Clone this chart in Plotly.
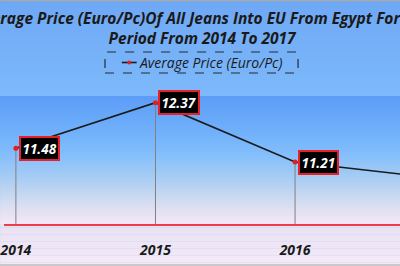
import plotly.graph_objects as go

years = [2014, 2015, 2016, 2017]
prices = [11.48, 12.37, 11.21, 10.90]
series_name = "Average Price (Euro/Pc)"
title_line1 = "Average Price (Euro/Pc)Of All Jeans Into EU From Egypt For The"
title_line2 = "Period From 2014 To 2017"
tick_vals = [2014, 2015, 2016, 2017]
tick_text = ["2014", "2015", "2016", "2017"]

W, H = 400, 266
T, B = 96, 42
PH = H - T - B
Y_MIN, Y_MAX = 10.0, 12.5
FONT = "Open Sans"
LINE_COLOR = "#1a1a1a"
MARKER_COLOR = "#e02020"


def py2paper(py):
    return (H - B - py) / PH


def lerp(c1, c2, t):
    a = [int(c1[i:i + 2], 16) for i in (1, 3, 5)]
    b = [int(c2[i:i + 2], 16) for i in (1, 3, 5)]
    return "rgb(%d,%d,%d)" % tuple(round(a[k] + (b[k] - a[k]) * t) for k in range(3))


def grad(stops, t):
    for i in range(len(stops) - 1):
        t0, c0 = stops[i]
        t1, c1 = stops[i + 1]
        if t <= t1:
            return lerp(c0, c1, (t - t0) / (t1 - t0) if t1 > t0 else 0)
    return lerp(stops[-1][1], stops[-1][1], 0)


shapes = []


def band(py0, py1, stops, n):
    for i in range(n):
        a = py0 + (py1 - py0) * i / n
        b = py0 + (py1 - py0) * (i + 1) / n
        col = grad(stops, (i + 0.5) / n)
        shapes.append(dict(type="rect", xref="paper", yref="paper", x0=-0.01, x1=1.01,
                           y0=py2paper(b + 0.3), y1=py2paper(a), fillcolor=col,
                           line=dict(width=0), layer="below"))


# outer chart area (top)
band(0, T, [(0, "#6ea8f5"), (1, "#7db9fb")], 24)
# plot area gradient
band(T, H - B, [(0, "#5c9cf7"), (0.3, "#72b2fb"), (0.45, "#82befc"),
                (0.65, "#aacdf3"), (0.85, "#d8def1"), (1, "#f6e8f6")], 64)
# outer chart area (bottom)
band(H - B, H, [(0, "#e9e2f3"), (1, "#f4e9f7")], 12)

# chart border lines
shapes.append(dict(type="line", xref="paper", yref="paper", x0=-0.01, x1=1.01,
                   y0=py2paper(0.5), y1=py2paper(0.5), line=dict(color="#a9a9a9", width=1.5)))
shapes.append(dict(type="line", xref="paper", yref="paper", x0=-0.01, x1=1.01,
                   y0=py2paper(265), y1=py2paper(265), line=dict(color="#bdbdbd", width=1.5)))
# custom legend: dashed border, symbol, text
LEG_Y = 62.5
shapes.append(dict(type="rect", xref="paper", yref="paper",
                   x0=102 / W, x1=297 / W, y0=py2paper(73), y1=py2paper(52),
                   line=dict(color="#2a2a2a", width=1.2, dash="dash"), fillcolor="rgba(0,0,0,0)"))
shapes.append(dict(type="line", xref="paper", yref="paper", x0=119 / W, x1=134 / W,
                   y0=py2paper(LEG_Y), y1=py2paper(LEG_Y), line=dict(color=LINE_COLOR, width=1.6)))
shapes.append(dict(type="circle", xref="paper", yref="paper", x0=124.5 / W, x1=128.5 / W,
                   y0=py2paper(LEG_Y + 2), y1=py2paper(LEG_Y - 2),
                   fillcolor=MARKER_COLOR, line=dict(width=0)))

fig = go.Figure()
fig.add_trace(go.Scatter(
    x=years, y=prices, mode="lines+markers", name=series_name,
    line=dict(color=LINE_COLOR, width=1.6),
    marker=dict(color=MARKER_COLOR, size=5),
    error_y=dict(type="data", symmetric=False, array=[0] * len(prices),
                 arrayminus=[p - Y_MIN for p in prices], width=0,
                 color="#808080", thickness=1),
    showlegend=False,
))

annotations = [
    dict(text="<b><i>%s<br>%s</i></b>" % (title_line1, title_line2), xref="paper", yref="paper",
         x=0.5, y=py2paper(27.5), showarrow=False, xanchor="center", yanchor="middle",
         align="center",
         font=dict(family=FONT, size=15.5, color="#1a1a1a")),
    dict(text="<i>%s</i>" % series_name, xref="paper", yref="paper", x=134 / W,
         y=py2paper(LEG_Y), showarrow=False, xanchor="left", yanchor="middle",
         font=dict(family=FONT, size=14, color="#1a1a1a")),
]
for x, y in zip(years, prices):
    annotations.append(dict(
        text="<b><i>%.2f</i></b>" % y, x=x, y=y, xref="x", yref="y", showarrow=False,
        xanchor="left", yanchor="middle", xshift=3,
        font=dict(family=FONT, size=13.5, color="white"),
        bgcolor="black", bordercolor="#e8202a", borderwidth=2, borderpad=1.5,
    ))

x0 = 2014 - 12 / 141
x1 = x0 + 400 / 141

fig.update_layout(
    width=W, height=H, margin=dict(l=0, r=0, t=T, b=B),
    paper_bgcolor="#7ab4f9", plot_bgcolor="rgba(0,0,0,0)",
    showlegend=False,
    shapes=shapes, annotations=annotations,
    xaxis=dict(range=[x0, x1], tickvals=tick_vals, ticktext=tick_text, showgrid=False,
               zeroline=False, showline=True, linecolor="#ec3d4a", linewidth=2,
               ticks="", ticklabelstandoff=12, ticklabeloverflow="allow",
               tickfont=dict(family=FONT, size=14, color="#1a1a1a", weight="bold", style="italic")),
    yaxis=dict(range=[Y_MIN, Y_MAX], showgrid=False, zeroline=False, showline=False,
               showticklabels=False, ticks=""),
)

fig.write_html("out.html")
